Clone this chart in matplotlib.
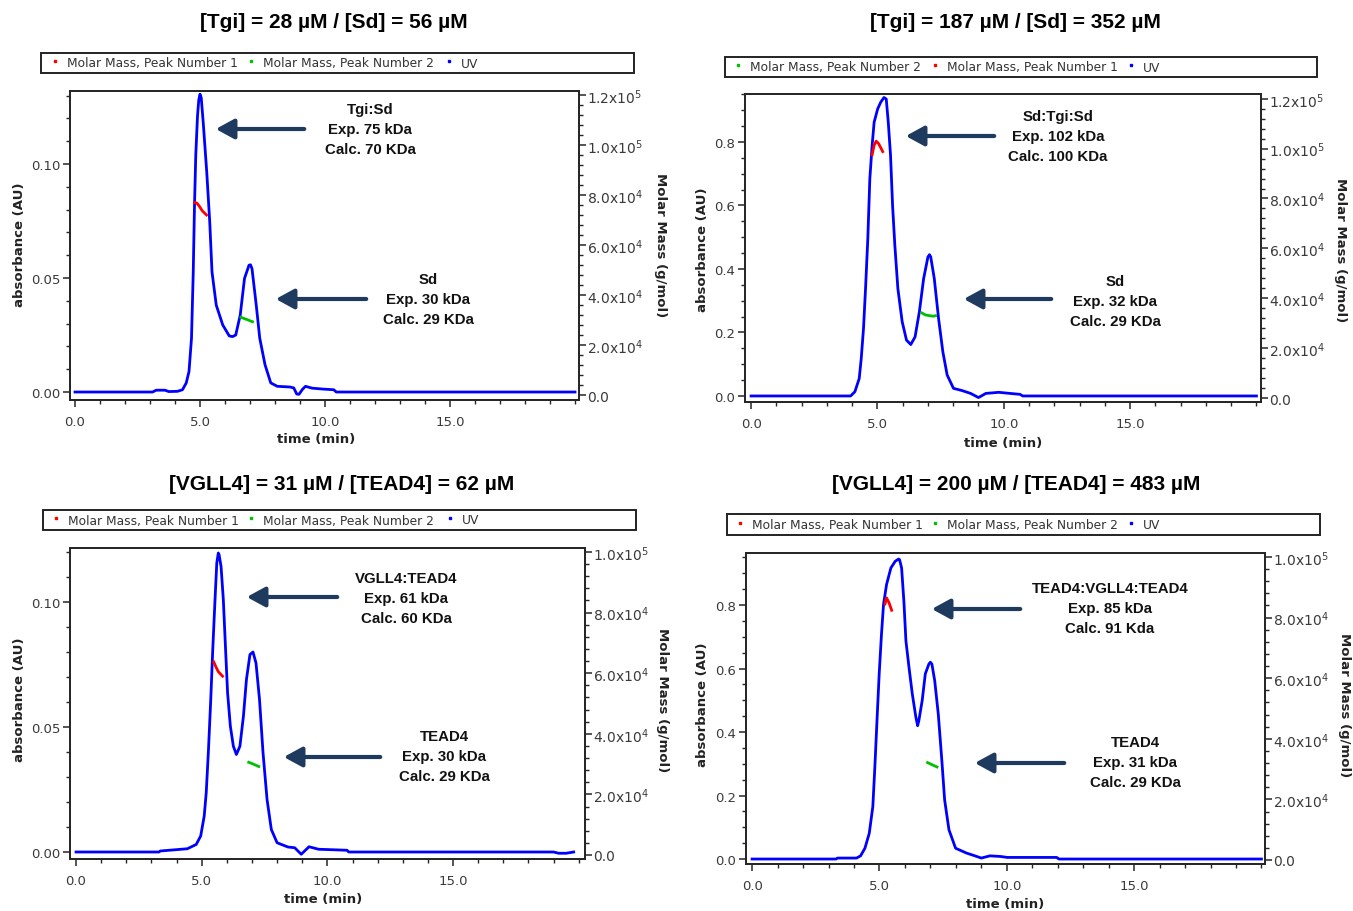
import numpy as np
import matplotlib
matplotlib.use("Agg")
import matplotlib.pyplot as plt
from matplotlib.ticker import MultipleLocator, FuncFormatter, FormatStrFormatter
from matplotlib.patches import Rectangle, FancyArrowPatch
from matplotlib.lines import Line2D

W, H = 1353, 912

# ---------------- data ----------------
titles = ["[Tgi] = 28 µM / [Sd] = 56 µM",
          "[Tgi] = 187 µM / [Sd] = 352 µM",
          "[VGLL4] = 31 µM / [TEAD4] = 62 µM",
          "[VGLL4] = 200 µM / [TEAD4] = 483 µM"]

# panel 1 UV
t1 = [0.0, 3.1, 3.25, 3.6, 3.75, 4.1, 4.3, 4.45, 4.56, 4.66, 4.73, 4.78, 4.83, 4.90, 4.95, 5.0, 5.05,
      5.13, 5.27, 5.39, 5.48, 5.65, 5.91, 6.17, 6.3, 6.43, 6.61, 6.78, 6.96, 7.02, 7.08, 7.25, 7.39,
      7.6, 7.83, 8.09, 8.6, 8.75, 8.87, 8.96, 9.1, 9.22, 9.48, 9.91, 10.35, 10.45, 20.0]
uv1 = [0.0, 0.0, 0.0008, 0.0008, 0.0002, 0.0003, 0.001, 0.004, 0.009, 0.0236, 0.0527, 0.0818, 0.1036,
       0.121, 0.128, 0.1306, 0.129, 0.118, 0.0964, 0.0745, 0.0527, 0.0381, 0.0294, 0.0246, 0.0243,
       0.025, 0.0338, 0.0498, 0.0556, 0.0558, 0.0541, 0.0381, 0.0236, 0.012, 0.004, 0.0025, 0.0022,
       0.0018, -0.0009, -0.001, 0.0012, 0.0025, 0.0017, 0.0013, 0.001, 0.0, 0.0]
red_t1 = [4.78, 4.87, 4.96, 5.09, 5.26]
red_m1 = [77000, 76800, 75700, 73700, 72000]
grn_t1 = [6.64, 6.82, 7.10]
grn_m1 = [31070, 30400, 29300]

# panel 2 UV
t2 = [0.0, 3.94, 4.11, 4.28, 4.36, 4.45, 4.53, 4.62, 4.70, 4.79, 4.87, 5.01, 5.13, 5.26, 5.35, 5.43,
      5.52, 5.60, 5.69, 5.81, 5.98, 6.15, 6.32, 6.49, 6.66, 6.83, 7.00, 7.06, 7.11, 7.25, 7.42, 7.59,
      7.76, 8.01, 8.35, 8.69, 9.0, 9.29, 9.80, 10.65, 10.75, 20.0]
uv2 = [0.0, 0.0, 0.0136, 0.055, 0.118, 0.213, 0.338, 0.495, 0.684, 0.788, 0.862, 0.904, 0.925, 0.940,
       0.935, 0.862, 0.757, 0.600, 0.474, 0.338, 0.234, 0.176, 0.162, 0.186, 0.265, 0.370, 0.438,
       0.445, 0.438, 0.370, 0.244, 0.139, 0.066, 0.024, 0.017, 0.008, -0.005, 0.008, 0.0115, 0.005,
       0.0, 0.0]
red_t2 = [4.79, 4.87, 4.95, 5.04, 5.13, 5.21]
red_m2 = [97500, 101300, 103000, 102100, 100400, 98800]
grn_t2 = [6.76, 6.90, 7.20, 7.30]
grn_m2 = [34100, 33300, 32800, 33000]

# panel 3 UV
t3 = [0.0, 3.3, 3.35, 4.43, 4.78, 4.96, 5.10, 5.18, 5.27, 5.36, 5.44, 5.53, 5.60, 5.66, 5.69, 5.77,
      5.86, 5.95, 6.03, 6.14, 6.26, 6.38, 6.52, 6.66, 6.78, 6.92, 7.04, 7.16, 7.30, 7.44, 7.60, 7.77,
      8.0, 8.43, 8.70, 8.96, 9.27, 9.65, 10.78, 10.85, 19.0, 19.2, 19.5, 19.8]
uv3 = [0.0, 0.0, 0.0004, 0.0013, 0.003, 0.0064, 0.0144, 0.0237, 0.041, 0.061, 0.081, 0.101, 0.1156,
       0.1196, 0.119, 0.1142, 0.101, 0.081, 0.0636, 0.0503, 0.0423, 0.039, 0.0423, 0.0543, 0.069,
       0.079, 0.080, 0.0756, 0.061, 0.0397, 0.021, 0.009, 0.0037, 0.002, 0.0017, -0.0009, 0.0021,
       0.0011, 0.0007, 0.0, 0.0, -0.0005, -0.0005, 0.0]
red_t3 = [5.48, 5.57, 5.66, 5.83]
red_m3 = [63700, 62000, 60500, 59000]
grn_t3 = [6.87, 7.05, 7.27]
grn_m3 = [30600, 30000, 29200]

# panel 4 UV
t4 = [0.0, 3.3, 3.35, 4.1, 4.26, 4.43, 4.60, 4.74, 4.82, 4.91, 4.99, 5.08, 5.16, 5.28, 5.45, 5.62,
      5.75, 5.79, 5.87, 5.96, 6.04, 6.16, 6.29, 6.43, 6.5, 6.55, 6.68, 6.80, 6.94, 7.0, 7.06, 7.17,
      7.31, 7.45, 7.56, 7.73, 7.99, 8.41, 8.75, 9.0, 9.34, 9.76, 10.02, 11.96, 12.05, 20.0]
uv4 = [0.0, 0.0, 0.003, 0.003, 0.01, 0.034, 0.081, 0.165, 0.29, 0.447, 0.583, 0.708, 0.802, 0.865,
       0.917, 0.938, 0.945, 0.943, 0.917, 0.812, 0.687, 0.604, 0.52, 0.447, 0.42, 0.437, 0.50, 0.583,
       0.614, 0.62, 0.614, 0.562, 0.457, 0.311, 0.186, 0.092, 0.034, 0.019, 0.010, 0.003, 0.010,
       0.008, 0.005, 0.005, 0.0, 0.0]
red_t4 = [5.22, 5.28, 5.38, 5.48]
red_m4 = [84500, 86500, 84800, 82400]
grn_t4 = [6.89, 7.05, 7.26]
grn_m4 = [32150, 31500, 30700]

legend_labels = [
    [("Molar Mass, Peak Number 1", "red"), ("Molar Mass, Peak Number 2", "#00c000"), ("UV", "blue")],
    [("Molar Mass, Peak Number 2", "#00c000"), ("Molar Mass, Peak Number 1", "red"), ("UV", "blue")],
    [("Molar Mass, Peak Number 1", "red"), ("Molar Mass, Peak Number 2", "#00c000"), ("UV", "blue")],
    [("Molar Mass, Peak Number 1", "red"), ("Molar Mass, Peak Number 2", "#00c000"), ("UV", "blue")],
]

annotations = [
    ["Tgi:Sd\nExp. 75 kDa\nCalc. 70 KDa", "Sd\nExp. 30 kDa\nCalc. 29 KDa"],
    ["Sd:Tgi:Sd\nExp. 102 kDa\nCalc. 100 KDa", "Sd\nExp. 32 kDa\nCalc. 29 KDa"],
    ["VGLL4:TEAD4\nExp. 61 kDa\nCalc. 60 KDa", "TEAD4\nExp. 30 kDa\nCalc. 29 KDa"],
    ["TEAD4:VGLL4:TEAD4\nExp. 85 kDa\nCalc. 91 Kda", "TEAD4\nExp. 31 kDa\nCalc. 29 KDa"],
]

xtick_labels = ["0.0", "5.0", "10.0", "15.0"]

# ---------------- layout (pixels) ----------------
panels = [
    dict(box=(70, 92, 579, 401), xlim=(-0.2, 20.16), ylim=(-0.0035, 0.132), ylim2=(-2000, 121600),
         ymaj=0.05, ymin=0.01, yfmt="%.2f",
         uv=(t1, uv1), red=(red_t1, red_m1), grn=(grn_t1, grn_m1),
         title=(334, 22), leg=(41, 54, 634, 74), legx=[55, 251, 449],
         ann=[((370, 130), (307, 213, 130)), ((428, 300), (369, 273, 300))],
         ylab=(20, 245), rlab=(660, 245), xlab=(316, 440)),
    dict(box=(745, 95, 1261, 403), xlim=(-0.24, 20.18), ylim=(-0.019, 0.951), ylim2=(-1600, 121900),
         ymaj=0.2, ymin=0.05, yfmt="%.1f",
         uv=(t2, uv2), red=(red_t2, red_m2), grn=(grn_t2, grn_m2),
         title=(1015, 22), leg=(725, 58, 1317, 78), legx=[738, 935, 1131],
         ann=[((1058, 137), (997, 903, 137)), ((1115, 302), (1054, 961, 300))],
         ylab=(703, 250), rlab=(1340, 250), xlab=(1003, 443)),
    dict(box=(70, 549, 585, 860), xlim=(-0.24, 20.25), ylim=(-0.0028, 0.1216), ylim2=(-1320, 101300),
         ymaj=0.05, ymin=0.01, yfmt="%.2f",
         uv=(t3, uv3), red=(red_t3, red_m3), grn=(grn_t3, grn_m3),
         title=(342, 485), leg=(43, 511, 636, 531), legx=[56, 251, 450],
         ann=[((406, 599), (340, 244, 598)), ((444, 757), (383, 281, 758))],
         ylab=(20, 700), rlab=(662, 700), xlab=(323, 900)),
    dict(box=(746, 554, 1265, 865), xlim=(-0.24, 20.14), ylim=(-0.0157, 0.964), ylim2=(-1320, 101300),
         ymaj=0.2, ymin=0.05, yfmt="%.1f",
         uv=(t4, uv4), red=(red_t4, red_m4), grn=(grn_t4, grn_m4),
         title=(1016, 485), leg=(727, 515, 1320, 536), legx=[740, 935, 1131],
         ann=[((1110, 609), (1023, 929, 610)), ((1135, 763), (1067, 972, 764))],
         ylab=(703, 705), rlab=(1345, 705), xlab=(1005, 905)),
]


def P(x, y):
    return (x / W, 1 - y / H)


def rfmt(v, pos):
    if abs(v) < 1:
        return "0.0"
    e = int(np.floor(np.log10(abs(v)) + 1e-9))
    m = v / 10 ** e
    return f"{m:.1f}x10$^{{{e}}}$"


plt.rcParams["mathtext.fontset"] = "dejavusans"
fig = plt.figure(figsize=(W / 100, H / 100), dpi=100)

ANN_FONT = ["Liberation Sans Narrow", "Liberation Sans", "DejaVu Sans"]
TITLE_FONT = ["Liberation Sans", "DejaVu Sans"]
TICK_FONT = ["DejaVu Sans"]
SPINE = "#262626"
ARROW = "#1F3A5F"

for i, p in enumerate(panels):
    l, t, r, b = p["box"]
    ax = fig.add_axes([l / W, 1 - b / H, (r - l) / W, (b - t) / H])
    ax2 = ax.twinx()

    tt, uu = p["uv"]
    ax.plot(tt, uu, color="#0000ff", lw=2.0, solid_joinstyle="round", zorder=3)
    ax2.plot(*p["red"], color="#ff0000", lw=2.0, zorder=4)
    ax2.plot(*p["grn"], color="#00c000", lw=2.0, zorder=4)

    ax.set_xlim(*p["xlim"])
    ax.set_ylim(*p["ylim"])
    ax2.set_ylim(*p["ylim2"])

    ax.xaxis.set_minor_locator(MultipleLocator(1))
    ax.set_xticks([0, 5, 10, 15])
    ax.set_xticklabels(xtick_labels)
    ax.yaxis.set_major_locator(MultipleLocator(p["ymaj"]))
    ax.yaxis.set_minor_locator(MultipleLocator(p["ymin"]))
    ax.yaxis.set_major_formatter(FormatStrFormatter(p["yfmt"]))
    ax2.yaxis.set_major_locator(MultipleLocator(2e4))
    ax2.yaxis.set_minor_locator(MultipleLocator(4e3))
    ax2.yaxis.set_major_formatter(FuncFormatter(rfmt))

    for a in (ax, ax2):
        for s in a.spines.values():
            s.set_color(SPINE)
            s.set_linewidth(1.3)
        a.tick_params(which="major", direction="out", length=5, width=1.1, color=SPINE,
                      labelsize=9.5, labelcolor="#3a3a3a", pad=2)
        a.tick_params(which="minor", direction="out", length=3, width=1.0, color=SPINE)
    ax2.tick_params(axis="y", labelsize=10, pad=1)
    ax.tick_params(axis="x", pad=6)
    for lab in ax.get_xticklabels() + ax.get_yticklabels() + ax2.get_yticklabels():
        lab.set_family(TICK_FONT)

    # title
    fig.text(*P(*p["title"]), titles[i], ha="center", va="center", fontsize=15,
             fontweight="bold", family=TITLE_FONT, color="black")

    # legend box
    x0, y0, x1, y1 = p["leg"]
    fig.add_artist(Rectangle(P(x0, y1), (x1 - x0) / W, (y1 - y0) / H, transform=fig.transFigure,
                             fill=False, ec="#222222", lw=1.4))
    ym = (y0 + y1) / 2
    for (lab, col), lx in zip(legend_labels[i], p["legx"]):
        fig.add_artist(Line2D([lx / W], [1 - (ym - 2) / H], marker="s", ms=1.8, color=col,
                              mec=col, transform=fig.transFigure, lw=0))
        fig.text((lx + 12) / W, 1 - ym / H, lab, ha="left", va="center", fontsize=8.8,
                 color="#333333", family=TICK_FONT)

    # annotations and arrows
    for txt, ((tx, ty), (ax0, ax1_, ay)) in zip(annotations[i], p["ann"]):
        fig.text(tx / W, 1 - ty / H, txt, ha="center", va="center", fontsize=10.8,
                 fontweight="bold", family=ANN_FONT, color="#111111", linespacing=1.55)
        fig.add_artist(FancyArrowPatch(P(ax0, ay), P(ax1_, ay), transform=fig.transFigure,
                                       arrowstyle="-|>,head_length=0.55,head_width=0.3",
                                       mutation_scale=20, lw=3.0, color=ARROW))

    # axis labels
    fig.text(*P(*p["ylab"]), "absorbance (AU)", rotation=90, ha="center", va="center",
             fontsize=9.5, fontweight="bold", color="#222222", family=TICK_FONT)
    fig.text(*P(*p["rlab"]), "Molar Mass (g/mol)", rotation=270, ha="center", va="center",
             fontsize=9.5, fontweight="bold", color="#222222", family=TICK_FONT)
    fig.text(*P(*p["xlab"]), "time (min)", ha="center", va="center",
             fontsize=9.5, fontweight="bold", color="#222222", family=TICK_FONT)

fig.savefig("out.png", dpi=100, facecolor="white")
